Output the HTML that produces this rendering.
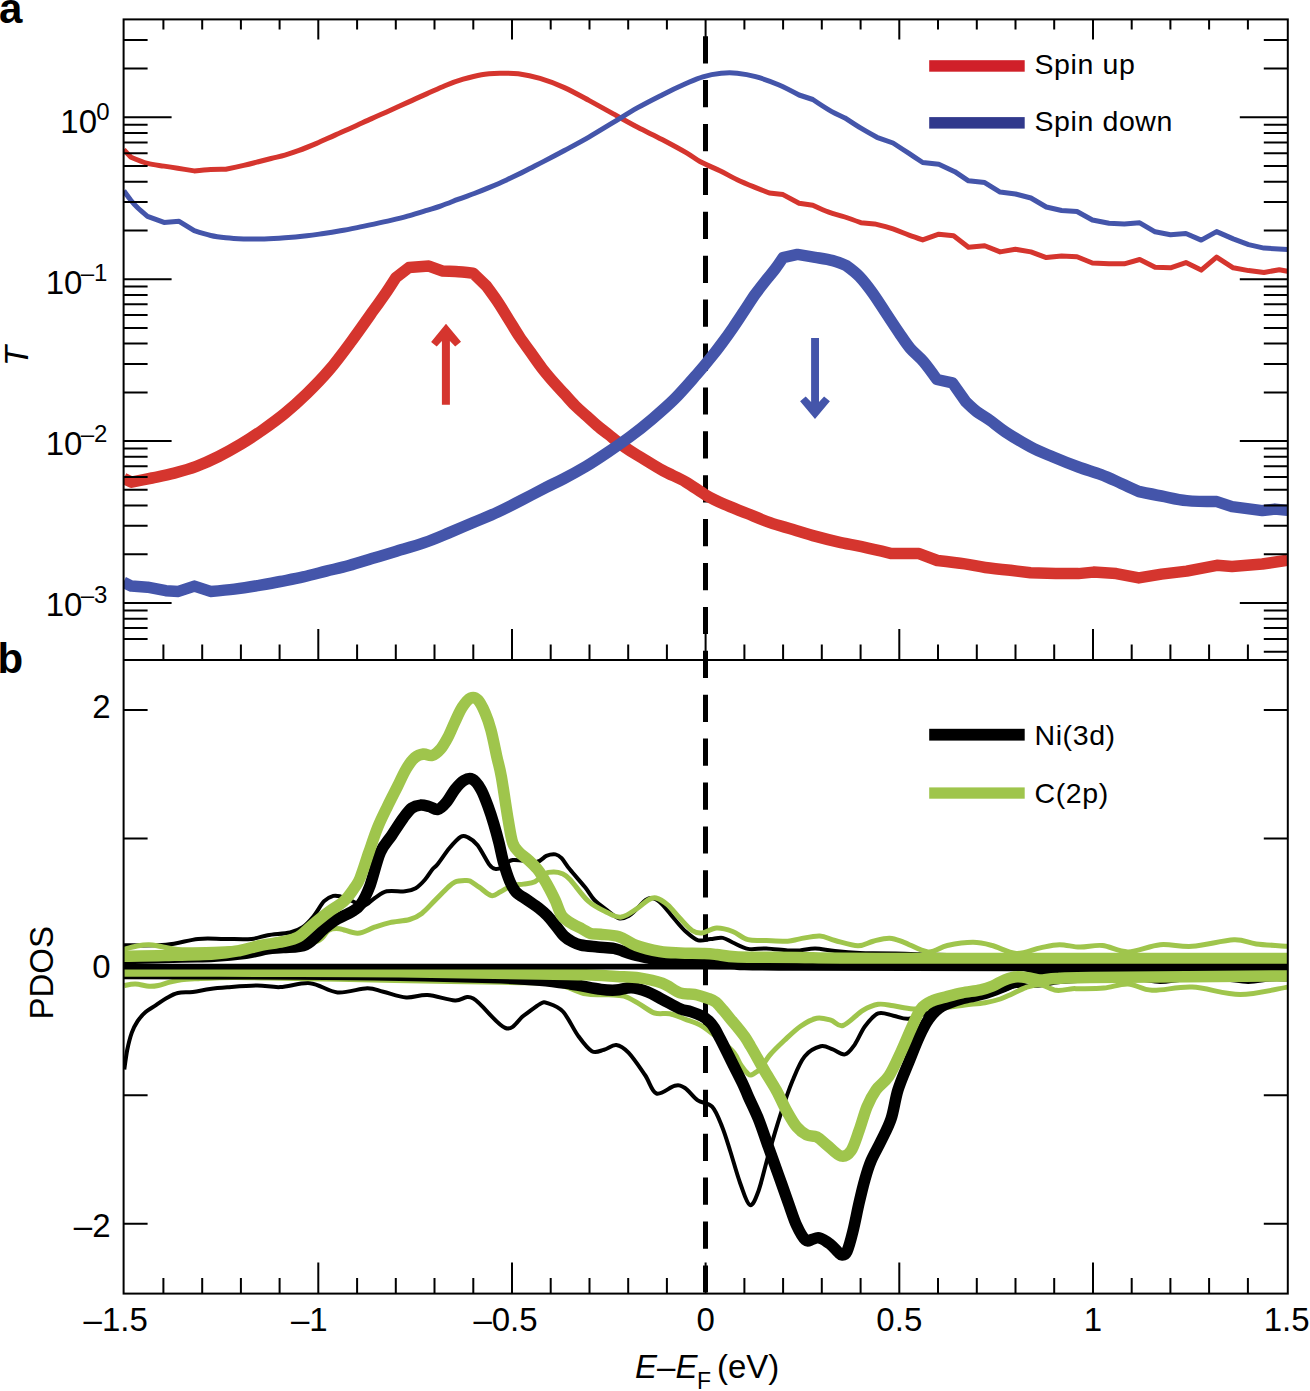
<!DOCTYPE html>
<html><head><meta charset="utf-8"><style>
html,body{margin:0;padding:0;background:#fff;}
body{width:1310px;height:1391px;overflow:hidden;font-family:"Liberation Sans",sans-serif;}
svg{display:block;}
</style></head><body>
<svg width="1310" height="1391" viewBox="0 0 1310 1391">
<rect width="1310" height="1391" fill="#fff"/>
<defs><clipPath id="ca"><rect x="123.6" y="19.4" width="1164.2" height="640.6"/></clipPath>
<clipPath id="cb"><rect x="123.6" y="660.0" width="1164.2" height="633.6"/></clipPath></defs>
<line x1="705.5" y1="36.2" x2="705.5" y2="1293.6" stroke="#000" stroke-width="5" stroke-dasharray="27.2 16.7"/>
<g clip-path="url(#ca)" fill="none" stroke-linejoin="round" stroke-linecap="butt">
<path d="M123.8,149.6 C123.8,149.6 131.0,157.2 131.0,157.2 C131.0,157.2 142.0,161.9 147.5,163.4 C153.0,164.9 159.0,165.3 164.0,166.1 C169.0,166.9 172.7,167.4 177.7,168.2 C182.7,169.0 194.2,170.9 194.2,170.9 C194.2,170.9 205.4,169.8 210.7,169.5 C216.0,169.2 225.8,169.3 225.8,169.3 C225.8,169.3 238.4,166.6 243.7,165.4 C249.0,164.2 252.8,163.2 257.4,162.0 C262.0,160.8 266.5,159.7 271.1,158.5 C275.7,157.3 280.4,156.4 284.9,155.1 C289.4,153.8 293.0,152.6 298.3,150.7 C303.6,148.8 310.5,146.0 316.6,143.4 C322.7,140.8 328.9,137.8 335.0,135.1 C341.1,132.3 347.2,129.7 353.3,126.9 C359.4,124.2 365.5,121.3 371.6,118.6 C377.7,115.8 383.8,113.2 389.9,110.4 C396.0,107.7 402.2,104.8 408.3,102.1 C414.4,99.3 420.5,96.6 426.6,93.9 C432.7,91.2 438.8,88.2 444.9,85.7 C451.0,83.2 457.1,81.0 463.2,79.2 C469.3,77.4 475.4,75.7 481.5,74.7 C487.6,73.7 493.9,73.5 500.0,73.3 C506.1,73.1 511.6,72.9 518.3,73.8 C525.0,74.7 532.3,76.1 540.0,78.4 C547.7,80.7 556.2,83.9 564.4,87.6 C572.5,91.3 580.8,96.0 588.9,100.4 C597.0,104.8 605.2,109.4 613.3,113.9 C621.4,118.4 629.6,123.0 637.7,127.3 C645.8,131.6 654.0,135.2 662.1,139.5 C670.2,143.8 680.3,149.2 686.6,152.9 C692.9,156.6 694.5,158.5 700.0,161.5 C705.5,164.5 713.7,167.8 719.9,170.8 C726.1,173.8 731.6,177.1 737.2,179.7 C742.8,182.3 747.9,184.4 753.3,186.6 C758.6,188.8 769.3,193.0 769.3,193.0 C769.3,193.0 783.0,194.6 783.0,194.6 C783.0,194.6 799.1,203.3 799.1,203.3 C799.1,203.3 812.8,205.3 812.8,205.3 C812.8,205.3 823.4,210.2 828.8,212.2 C834.1,214.1 839.5,215.2 844.9,217.0 C850.2,218.8 860.9,222.7 860.9,222.7 C860.9,222.7 874.6,223.9 874.6,223.9 C874.6,223.9 887.3,227.0 893.0,228.9 C898.7,230.8 904.0,233.3 909.0,235.1 C914.0,236.9 922.7,239.9 922.7,239.9 C922.7,239.9 938.8,234.2 938.8,234.2 C938.8,234.2 953.6,235.8 953.6,235.8 C953.6,235.8 968.5,247.2 968.5,247.2 C968.5,247.2 984.7,245.8 984.7,245.8 C984.7,245.8 1000.1,251.9 1000.1,251.9 C1000.1,251.9 1015.5,249.3 1015.5,249.3 C1015.5,249.3 1030.9,251.9 1030.9,251.9 C1030.9,251.9 1046.3,257.6 1046.3,257.6 C1046.3,257.6 1061.6,256.0 1061.6,256.0 C1061.6,256.0 1077.0,256.7 1077.0,256.7 C1077.0,256.7 1092.4,263.0 1092.4,263.0 C1092.4,263.0 1109.0,263.8 1109.0,263.8 C1109.0,263.8 1124.3,263.8 1124.3,263.8 C1124.3,263.8 1139.7,259.5 1139.7,259.5 C1139.7,259.5 1155.1,267.3 1155.1,267.3 C1155.1,267.3 1170.5,267.8 1170.5,267.8 C1170.5,267.8 1185.9,262.6 1185.9,262.6 C1185.9,262.6 1201.2,270.1 1201.2,270.1 C1201.2,270.1 1216.6,257.1 1216.6,257.1 C1216.6,257.1 1233.2,267.8 1233.2,267.8 C1233.2,267.8 1248.6,270.6 1248.6,270.6 C1248.6,270.6 1264.0,272.5 1264.0,272.5 C1264.0,272.5 1279.3,269.7 1279.3,269.7 C1279.3,269.7 1287.5,271.3 1287.5,271.3" stroke="#d5352e" stroke-width="5"/>
<path d="M123.8,190.8 C123.8,190.8 128.7,197.6 131.0,200.5 C133.3,203.4 135.2,205.4 137.9,208.0 C140.7,210.6 147.5,216.3 147.5,216.3 C147.5,216.3 164.0,222.4 164.0,222.4 C164.0,222.4 179.1,221.3 179.1,221.3 C179.1,221.3 194.2,230.7 194.2,230.7 C194.2,230.7 205.4,234.3 210.7,235.5 C216.0,236.7 220.3,237.2 225.8,237.8 C231.3,238.4 237.3,238.7 243.7,238.9 C250.1,239.1 257.4,239.1 264.3,238.9 C271.2,238.7 277.8,238.3 284.9,237.8 C292.0,237.3 300.4,236.5 306.8,235.8 C313.2,235.1 318.0,234.3 323.6,233.5 C329.2,232.7 334.8,231.8 340.4,230.8 C346.0,229.8 351.6,228.7 357.2,227.6 C362.8,226.5 368.4,225.3 374.0,224.1 C379.6,222.9 385.2,221.7 390.8,220.4 C396.4,219.1 401.9,217.8 407.5,216.2 C413.1,214.6 418.7,212.8 424.3,211.1 C429.9,209.4 435.5,207.8 441.1,205.8 C446.7,203.9 452.4,201.5 457.9,199.4 C463.4,197.3 469.1,195.4 474.2,193.5 C479.3,191.6 482.9,190.2 488.3,187.9 C493.7,185.6 500.5,182.7 506.6,179.9 C512.7,177.1 518.9,174.2 525.0,171.1 C531.1,168.0 536.7,165.0 543.3,161.6 C549.9,158.2 556.8,154.6 564.4,150.5 C572.0,146.4 580.8,141.8 588.9,137.1 C597.0,132.4 605.2,127.3 613.3,122.4 C621.4,117.5 629.6,112.3 637.7,107.7 C645.8,103.1 654.0,99.0 662.1,94.9 C670.2,90.8 679.8,86.3 686.6,83.3 C693.4,80.3 697.1,78.5 702.9,76.8 C708.7,75.1 715.5,73.9 721.2,73.3 C726.9,72.7 731.5,72.7 737.2,73.2 C742.9,73.8 748.7,74.7 755.6,76.6 C762.5,78.5 771.2,81.6 778.5,84.7 C785.8,87.8 799.1,95.0 799.1,95.0 C799.1,95.0 812.8,99.5 812.8,99.5 C812.8,99.5 823.4,106.7 828.8,109.8 C834.1,112.9 844.9,117.9 844.9,117.9 C844.9,117.9 855.6,125.0 860.9,128.2 C866.2,131.4 876.9,137.3 876.9,137.3 C876.9,137.3 893.0,143.0 893.0,143.0 C893.0,143.0 904.0,150.2 909.0,153.4 C914.0,156.7 922.7,162.5 922.7,162.5 C922.7,162.5 938.8,164.3 938.8,164.3 C938.8,164.3 954.8,171.7 954.8,171.7 C954.8,171.7 968.5,180.8 968.5,180.8 C968.5,180.8 984.7,182.6 984.7,182.6 C984.7,182.6 1000.1,192.1 1000.1,192.1 C1000.1,192.1 1015.5,194.0 1015.5,194.0 C1015.5,194.0 1030.9,198.0 1030.9,198.0 C1030.9,198.0 1046.3,207.0 1046.3,207.0 C1046.3,207.0 1061.6,210.5 1061.6,210.5 C1061.6,210.5 1077.0,211.5 1077.0,211.5 C1077.0,211.5 1092.4,220.0 1092.4,220.0 C1092.4,220.0 1109.0,223.3 1109.0,223.3 C1109.0,223.3 1124.3,224.0 1124.3,224.0 C1124.3,224.0 1139.7,222.8 1139.7,222.8 C1139.7,222.8 1155.1,231.8 1155.1,231.8 C1155.1,231.8 1170.5,234.7 1170.5,234.7 C1170.5,234.7 1185.9,233.5 1185.9,233.5 C1185.9,233.5 1201.2,240.1 1201.2,240.1 C1201.2,240.1 1216.6,231.6 1216.6,231.6 C1216.6,231.6 1233.2,238.9 1233.2,238.9 C1233.2,238.9 1248.6,244.6 1248.6,244.6 C1248.6,244.6 1264.0,248.1 1264.0,248.1 C1264.0,248.1 1287.5,249.6 1287.5,249.6" stroke="#4455aa" stroke-width="5"/>
<path d="M123.7,478.3 C123.7,478.3 131.5,482.2 131.5,482.2 C131.5,482.2 145.0,479.5 152.1,478.0 C159.2,476.5 166.9,475.0 174.3,473.1 C181.7,471.2 189.0,469.2 196.4,466.4 C203.8,463.6 211.2,460.2 218.6,456.5 C226.0,452.8 233.3,448.7 240.7,444.3 C248.1,439.9 255.4,435.1 262.8,429.9 C270.2,424.7 277.6,419.4 285.0,413.3 C292.4,407.2 299.7,400.6 307.1,393.4 C314.5,386.2 321.8,378.8 329.2,370.1 C336.6,361.4 344.0,351.3 351.4,341.3 C358.8,331.3 368.0,318.1 373.5,310.3 C379.0,302.6 380.9,300.2 384.6,294.8 C388.3,289.4 395.7,277.8 395.7,277.8 C395.7,277.8 409.0,267.5 409.0,267.5 C409.0,267.5 428.9,266.1 428.9,266.1 C428.9,266.1 442.1,270.9 442.1,270.9 C442.1,270.9 450.2,271.2 455.4,271.6 C460.6,272.0 473.1,273.2 473.1,273.2 C473.1,273.2 486.4,286.0 486.4,286.0 C486.4,286.0 493.8,296.0 497.5,301.5 C501.2,307.0 504.9,313.3 508.6,319.2 C512.3,325.1 515.9,331.4 519.6,336.9 C523.3,342.4 527.0,347.2 530.7,352.4 C534.4,357.6 538.1,363.1 541.8,367.9 C545.5,372.7 549.1,376.9 552.8,381.2 C556.5,385.4 560.2,389.3 563.9,393.4 C567.6,397.4 571.3,401.8 575.0,405.5 C578.7,409.2 582.3,412.2 586.0,415.5 C589.7,418.8 593.4,422.4 597.1,425.5 C600.8,428.6 604.5,431.4 608.2,434.3 C611.9,437.2 615.5,440.4 619.2,443.2 C622.9,446.0 626.6,448.5 630.3,450.9 C634.0,453.3 635.9,454.3 641.4,457.6 C646.9,460.9 656.1,466.8 663.5,470.9 C670.9,474.9 678.6,477.8 685.7,481.9 C692.8,485.9 699.6,491.5 706.0,495.2 C712.4,498.9 717.4,501.2 724.3,504.3 C731.2,507.4 739.6,510.4 747.2,513.5 C754.8,516.6 762.5,520.0 770.1,522.7 C777.7,525.4 785.4,527.2 793.0,529.5 C800.6,531.8 808.3,534.3 815.9,536.4 C823.5,538.5 831.2,540.4 838.8,542.1 C846.4,543.8 852.9,544.8 861.7,546.7 C870.5,548.6 891.5,553.6 891.5,553.6 C891.5,553.6 919.0,553.6 919.0,553.6 C919.0,553.6 937.3,560.5 937.3,560.5 C937.3,560.5 956.8,562.7 964.8,563.9 C972.8,565.1 977.6,566.4 985.2,567.5 C992.8,568.6 1010.4,570.3 1010.4,570.3 C1010.4,570.3 1030.5,572.8 1030.5,572.8 C1030.5,572.8 1055.7,573.4 1055.7,573.4 C1055.7,573.4 1078.4,573.6 1078.4,573.6 C1078.4,573.6 1093.5,572.1 1093.5,572.1 C1093.5,572.1 1116.2,573.6 1116.2,573.6 C1116.2,573.6 1138.8,577.9 1138.8,577.9 C1138.8,577.9 1161.5,574.1 1161.5,574.1 C1161.5,574.1 1186.7,571.1 1186.7,571.1 C1186.7,571.1 1216.9,565.3 1216.9,565.3 C1216.9,565.3 1232.0,566.5 1232.0,566.5 C1232.0,566.5 1262.3,564.0 1262.3,564.0 C1262.3,564.0 1287.5,560.3 1287.5,560.3" stroke="#d5352e" stroke-width="11.5"/>
<path d="M123.4,582.2 C123.4,582.2 131.4,586.1 131.4,586.1 C131.4,586.1 147.5,587.2 147.5,587.2 C147.5,587.2 165.8,590.7 165.8,590.7 C165.8,590.7 178.4,591.4 178.4,591.4 C178.4,591.4 194.4,586.1 194.4,586.1 C194.4,586.1 210.5,591.4 210.5,591.4 C210.5,591.4 226.7,590.1 234.5,589.1 C242.3,588.1 249.8,586.9 257.4,585.6 C265.0,584.3 272.7,583.0 280.3,581.5 C287.9,580.0 295.6,578.6 303.2,576.9 C310.8,575.2 318.5,573.1 326.1,571.2 C333.7,569.3 341.4,567.6 349.0,565.5 C356.6,563.4 364.3,560.9 371.9,558.6 C379.5,556.3 386.1,554.4 394.8,551.8 C403.6,549.1 415.4,545.9 424.4,542.7 C433.4,539.6 440.8,536.3 448.9,532.9 C457.0,529.5 465.2,526.0 473.3,522.5 C481.4,519.0 489.6,515.9 497.7,512.1 C505.8,508.3 514.0,504.1 522.1,499.9 C530.2,495.7 539.6,490.7 546.6,487.1 C553.6,483.6 557.3,482.1 563.9,478.6 C570.5,475.2 578.6,470.8 586.0,466.4 C593.4,462.0 600.8,457.0 608.2,452.0 C615.6,447.0 622.9,442.0 630.3,436.5 C637.7,431.0 645.1,425.1 652.5,418.8 C659.9,412.5 667.2,406.3 674.6,398.9 C682.0,391.5 690.6,381.4 696.7,374.5 C702.8,367.6 706.9,362.6 711.1,357.3 C715.3,352.1 718.4,348.0 722.1,343.0 C725.8,338.0 729.5,332.8 733.2,327.4 C736.9,322.0 740.6,316.3 744.3,310.8 C748.0,305.3 751.6,299.4 755.3,294.2 C759.0,289.0 763.1,284.0 766.4,279.8 C769.7,275.6 772.5,272.5 775.3,268.8 C778.1,265.1 783.0,257.7 783.0,257.7 C783.0,257.7 797.4,254.4 797.4,254.4 C797.4,254.4 809.2,256.3 815.1,257.3 C821.0,258.3 827.6,259.2 832.8,260.6 C838.0,262.0 846.1,265.5 846.1,265.5 C846.1,265.5 855.0,271.9 859.4,276.5 C863.8,281.1 868.3,287.0 872.7,293.1 C877.1,299.2 881.6,306.5 886.0,313.1 C890.4,319.8 895.2,327.1 899.2,333.0 C903.2,338.9 906.2,343.7 910.3,348.5 C914.4,353.3 919.2,356.6 923.6,361.8 C928.0,367.0 936.9,379.5 936.9,379.5 C936.9,379.5 952.4,382.8 952.4,382.8 C952.4,382.8 965.7,401.6 965.7,401.6 C965.7,401.6 972.7,408.5 976.7,411.6 C980.8,414.7 985.2,417.0 990.0,420.4 C994.8,423.8 998.5,427.4 1005.3,431.8 C1012.0,436.2 1022.5,442.7 1030.5,446.9 C1038.5,451.1 1045.2,453.6 1053.2,457.0 C1061.2,460.4 1070.4,464.1 1078.4,467.0 C1086.4,469.9 1094.0,471.9 1101.1,474.6 C1108.2,477.3 1114.9,480.6 1121.2,483.4 C1127.5,486.2 1138.8,491.5 1138.8,491.5 C1138.8,491.5 1153.5,494.5 1161.5,496.0 C1169.5,497.5 1177.5,499.7 1186.7,500.6 C1195.9,501.5 1216.9,501.6 1216.9,501.6 C1216.9,501.6 1232.0,506.6 1232.0,506.6 C1232.0,506.6 1262.3,510.6 1262.3,510.6 C1262.3,510.6 1274.9,509.1 1274.9,509.1 C1274.9,509.1 1287.5,510.4 1287.5,510.4" stroke="#4455aa" stroke-width="11.5"/>
</g>
<polygon fill="#d5352e" points="446,323.8 461,341.7 455.2,346.6 449.9,340.9 449.9,404.7 441.9,404.7 441.9,340.9 436.7,346.6 431.1,342"/>
<polygon fill="#4455aa" points="815,419.1 829.9,401.2 824.1,396.5 819,401.9 819,338.1 811.1,338.1 811.1,401.9 805.7,396.5 800.1,401.2"/>
<g clip-path="url(#cb)" fill="none" stroke-linejoin="round" stroke-linecap="butt">
<path d="M123.6,945.3 C130.7,945.2 153.6,945.9 166.0,944.8 C178.4,943.7 188.3,939.9 198.1,938.9 C207.9,937.9 215.9,938.9 224.8,938.9 C233.7,938.9 244.4,939.5 251.5,938.9 C258.6,938.3 261.2,936.3 267.6,935.2 C274.0,934.1 284.1,933.8 290.0,932.5 C295.9,931.2 298.8,929.9 302.7,927.2 C306.6,924.5 309.8,920.8 313.4,916.5 C317.0,912.2 320.8,904.6 324.1,901.2 C327.4,897.8 330.5,896.7 333.3,895.9 C336.1,895.1 337.8,895.8 340.9,896.6 C344.0,897.5 348.2,899.5 352.0,901.0 C355.8,902.5 360.1,906.3 363.8,905.8 C367.6,905.3 370.7,900.6 374.5,898.2 C378.3,895.8 381.6,892.4 386.7,891.3 C391.8,890.1 400.2,891.8 405.0,891.3 C409.8,890.8 412.4,890.1 415.7,888.2 C419.0,886.3 422.1,883.0 424.9,879.8 C427.7,876.6 430.4,871.8 432.5,869.2 C434.6,866.6 435.0,867.5 437.8,864.0 C440.6,860.5 445.5,852.8 449.3,848.2 C453.1,843.7 457.7,838.5 460.8,836.7 C463.9,834.9 465.2,836.0 468.0,837.4 C470.8,838.8 474.1,840.7 477.6,845.2 C481.1,849.7 486.2,860.3 489.1,864.3 C492.0,868.2 493.0,868.4 495.2,868.9 C497.4,869.4 499.2,868.8 502.1,867.3 C505.0,865.8 507.0,861.0 512.7,860.1 C518.4,859.2 530.8,862.7 536.4,862.0 C542.0,861.3 543.1,857.2 546.3,855.9 C549.5,854.6 553.0,854.0 555.5,854.4 C558.0,854.8 559.2,855.7 561.6,858.2 C564.0,860.7 566.0,864.7 570.0,869.6 C574.0,874.5 581.2,882.5 585.3,887.6 C589.4,892.7 590.8,896.3 594.4,900.0 C598.0,903.7 602.5,906.8 606.6,909.8 C610.7,912.8 615.2,917.3 618.9,918.3 C622.6,919.3 625.4,917.7 628.6,915.9 C631.9,914.1 635.5,909.9 638.4,907.3 C641.2,904.6 643.3,901.5 645.7,900.0 C648.1,898.5 650.4,897.7 653.0,898.3 C655.6,898.9 658.1,900.4 661.6,903.7 C665.1,907.0 669.7,913.6 673.8,918.3 C677.9,923.0 681.9,928.1 686.0,931.8 C690.1,935.5 694.1,939.1 698.2,940.3 C702.3,941.5 706.4,939.5 710.5,939.1 C714.6,938.7 719.0,937.3 722.7,937.9 C726.4,938.5 728.5,940.7 732.7,942.5 C736.9,944.3 742.4,947.9 748.0,948.9 C753.6,949.9 759.7,948.2 766.3,948.5 C772.9,948.8 782.1,950.1 787.7,950.4 C793.3,950.7 795.3,950.7 799.9,950.4 C804.5,950.1 809.4,948.4 815.2,948.5 C821.1,948.6 827.5,950.4 835.0,951.1 C842.5,951.9 849.8,952.6 860.0,953.0 C870.2,953.4 872.7,953.0 896.0,953.5 C919.3,954.0 934.8,955.2 1000.0,956.0 C1065.2,956.8 1239.6,957.7 1287.5,958.0" stroke="#000" stroke-width="4"/>
<path d="M124.3,1069.5 C124.8,1066.2 126.0,1056.1 127.2,1050.0 C128.5,1043.9 130.1,1037.5 131.8,1032.7 C133.5,1027.9 135.3,1024.7 137.6,1021.2 C139.9,1017.8 142.5,1014.7 145.6,1012.0 C148.7,1009.3 152.6,1007.4 156.0,1005.1 C159.4,1002.8 162.7,1000.2 166.3,998.2 C169.9,996.2 173.4,994.0 177.8,993.0 C182.2,992.0 187.4,992.6 192.8,991.9 C198.2,991.2 204.2,989.8 210.0,989.0 C215.8,988.2 219.4,987.9 227.3,987.3 C235.2,986.7 248.6,985.5 257.4,985.5 C266.2,985.5 271.5,987.5 280.3,987.1 C289.1,986.7 300.6,982.3 310.1,983.2 C319.6,984.1 328.0,991.6 337.5,992.4 C347.0,993.2 359.7,988.3 367.3,988.2 C374.9,988.1 376.8,990.2 383.3,991.7 C389.8,993.2 398.8,996.9 406.2,997.4 C413.6,997.9 419.4,994.5 427.5,995.0 C435.6,995.5 447.4,999.9 455.0,1000.5 C462.6,1001.1 464.9,994.0 473.3,998.6 C481.7,1003.2 497.0,1025.2 505.4,1028.0 C513.8,1030.8 517.9,1019.6 523.7,1015.6 C529.5,1011.6 536.0,1006.0 540.0,1003.9 C544.0,1001.8 543.8,1001.8 547.6,1003.1 C551.4,1004.4 557.8,1006.0 562.9,1011.5 C568.0,1017.0 573.4,1029.3 578.2,1035.9 C583.0,1042.5 587.6,1048.9 591.9,1051.2 C596.2,1053.5 600.0,1050.7 604.1,1049.7 C608.2,1048.7 612.2,1044.5 616.3,1045.0 C620.4,1045.5 623.7,1047.7 628.5,1052.7 C633.3,1057.7 640.3,1068.2 645.0,1075.0 C649.7,1081.8 651.5,1091.7 656.5,1093.5 C661.5,1095.3 670.0,1086.6 674.8,1085.7 C679.5,1084.8 681.2,1085.6 685.0,1088.0 C688.8,1090.4 693.3,1097.2 697.8,1100.3 C702.3,1103.4 708.0,1102.3 712.1,1106.7 C716.2,1111.1 719.1,1119.4 722.1,1126.8 C725.1,1134.2 727.2,1141.6 730.2,1151.0 C733.2,1160.4 736.9,1174.2 740.2,1183.2 C743.5,1192.2 746.8,1203.7 749.8,1205.0 C752.8,1206.3 755.3,1199.5 758.4,1191.2 C761.5,1182.9 764.7,1167.8 768.4,1155.0 C772.1,1142.2 776.5,1127.1 780.5,1114.7 C784.5,1102.3 788.6,1090.2 792.6,1080.5 C796.6,1070.8 799.9,1062.1 804.6,1056.4 C809.3,1050.7 816.0,1047.5 820.7,1046.3 C825.4,1045.1 828.8,1048.1 832.8,1049.4 C836.8,1050.8 841.2,1055.2 844.9,1054.4 C848.6,1053.6 851.5,1049.0 854.9,1044.3 C858.2,1039.6 861.1,1031.4 865.0,1026.2 C868.9,1021.1 873.5,1015.1 878.2,1013.4 C882.9,1011.6 888.3,1014.8 893.4,1015.7 C898.5,1016.6 902.6,1019.4 908.7,1018.8 C914.8,1018.2 923.1,1014.5 930.0,1012.0 C936.9,1009.5 942.5,1006.5 950.0,1004.0 C957.5,1001.5 966.7,999.2 975.0,997.0 C983.3,994.8 993.1,992.8 1000.0,991.0 C1006.9,989.2 1009.6,986.9 1016.3,986.0 C1023.0,985.1 1032.7,986.2 1040.0,985.5 C1047.3,984.8 1050.0,982.9 1060.0,982.0 C1070.0,981.1 1087.5,980.5 1100.0,980.0 C1112.5,979.5 1125.0,978.7 1135.0,979.0 C1145.0,979.3 1151.7,981.9 1160.0,982.0 C1168.3,982.1 1175.0,980.0 1185.0,979.5 C1195.0,979.0 1209.5,978.6 1220.0,979.0 C1230.5,979.4 1239.7,981.9 1248.0,982.0 C1256.3,982.1 1263.4,979.9 1270.0,979.5 C1276.6,979.1 1284.6,979.5 1287.5,979.5" stroke="#000" stroke-width="4"/>
<path d="M123.6,949.5 C125.8,948.9 132.8,946.8 137.0,946.0 C141.2,945.2 145.0,944.6 149.0,944.7 C153.0,944.8 156.2,945.7 161.0,946.5 C165.8,947.3 169.2,949.0 178.0,949.5 C186.8,950.0 200.3,949.6 214.0,949.2 C227.7,948.8 247.3,947.9 260.0,947.0 C272.7,946.1 280.3,945.0 290.0,944.0 C299.7,943.0 311.6,943.2 318.0,940.9 C324.4,938.6 325.1,932.2 328.7,930.2 C332.3,928.2 334.6,928.2 339.4,928.7 C344.2,929.2 351.8,933.5 357.7,933.3 C363.6,933.0 369.1,929.0 374.5,927.2 C379.9,925.4 383.9,923.9 389.8,922.6 C395.7,921.3 404.3,921.0 409.6,919.5 C414.9,918.0 417.5,916.7 421.8,913.4 C426.1,910.1 431.3,904.0 435.6,899.7 C439.9,895.4 444.6,890.5 447.8,887.5 C451.0,884.5 452.2,883.2 455.0,882.0 C457.8,880.8 462.3,880.6 464.8,880.5 C467.3,880.4 467.6,880.0 470.0,881.1 C472.4,882.2 475.6,884.8 479.2,887.2 C482.8,889.6 487.8,894.8 491.4,895.6 C494.9,896.4 497.1,893.5 500.5,891.8 C503.9,890.1 508.2,886.9 512.0,885.6 C515.8,884.3 519.6,884.7 523.4,884.1 C527.2,883.5 531.3,883.6 534.9,881.8 C538.5,880.0 541.6,875.0 544.8,873.4 C548.0,871.8 551.2,871.9 554.0,871.9 C556.8,871.9 558.9,872.1 561.6,873.4 C564.3,874.7 565.5,874.9 570.0,879.5 C574.5,884.1 582.2,895.8 588.3,901.2 C594.4,906.7 601.1,909.6 606.6,912.2 C612.1,914.9 616.2,917.7 621.3,917.1 C626.4,916.5 632.7,911.4 637.2,908.5 C641.7,905.6 645.1,901.8 648.2,900.0 C651.3,898.2 652.8,897.2 656.0,898.0 C659.2,898.8 663.7,901.5 667.7,904.9 C671.7,908.3 675.8,914.0 679.9,918.3 C684.0,922.6 688.4,928.0 692.1,930.5 C695.8,933.0 697.8,933.4 701.9,933.0 C706.0,932.6 711.5,928.4 716.6,928.1 C721.7,927.9 727.5,929.6 732.7,931.5 C737.9,933.4 742.4,938.2 748.0,939.7 C753.6,941.2 759.7,940.2 766.3,940.5 C772.9,940.8 782.1,941.5 787.7,941.2 C793.3,940.9 794.5,939.8 799.9,938.9 C805.2,938.0 813.9,935.6 819.8,935.9 C825.6,936.2 828.6,938.9 835.0,940.5 C841.4,942.1 851.5,945.7 857.9,945.8 C864.3,945.9 867.9,942.5 873.2,941.2 C878.5,939.9 884.5,938.0 889.6,938.2 C894.7,938.4 897.6,940.0 904.0,942.3 C910.4,944.6 920.9,951.4 928.1,951.9 C935.3,952.4 939.8,947.1 947.3,945.5 C954.8,943.9 965.5,942.3 973.0,942.3 C980.5,942.3 985.0,943.6 992.2,945.5 C999.4,947.4 1008.3,953.1 1016.3,953.5 C1024.3,953.9 1033.1,949.4 1040.3,947.9 C1047.5,946.4 1052.9,944.8 1059.5,944.7 C1066.1,944.6 1072.8,947.0 1080.0,947.1 C1087.2,947.2 1094.4,944.7 1102.4,945.5 C1110.4,946.3 1118.5,952.0 1128.1,951.9 C1137.7,951.8 1149.5,945.6 1160.2,944.7 C1170.9,943.8 1179.9,947.1 1192.2,946.3 C1204.5,945.5 1223.2,940.2 1233.9,939.8 C1244.6,939.4 1247.4,942.8 1256.3,943.9 C1265.2,945.0 1282.3,945.9 1287.5,946.3" stroke="#9fc54c" stroke-width="5"/>
<path d="M124.3,985.5 C126.1,985.2 131.2,983.9 135.3,984.0 C139.4,984.1 145.3,986.0 149.1,986.3 C152.9,986.5 154.9,986.2 158.3,985.5 C161.8,984.8 166.0,983.1 169.8,982.1 C173.6,981.1 176.5,980.4 181.3,979.8 C186.1,979.2 189.9,979.1 198.5,978.7 C207.1,978.3 221.4,977.6 233.0,977.5 C244.6,977.4 248.5,977.8 268.0,978.1 C287.5,978.4 319.7,978.9 350.0,979.5 C380.3,980.1 423.3,981.0 450.0,981.5 C476.7,982.0 492.4,982.1 510.0,982.5 C527.5,982.9 542.7,982.1 555.3,984.0 C567.9,985.9 576.9,992.1 585.8,993.9 C594.7,995.7 602.3,994.3 608.7,994.7 C615.1,995.1 618.9,994.7 624.0,996.2 C629.1,997.7 634.1,1001.1 639.2,1003.9 C644.3,1006.7 649.4,1011.4 654.5,1013.0 C659.6,1014.6 664.7,1012.8 669.8,1013.8 C674.9,1014.8 679.7,1017.1 685.0,1019.1 C690.3,1021.1 695.8,1022.4 701.6,1025.9 C707.5,1029.4 714.7,1035.6 720.1,1040.0 C725.5,1044.4 730.4,1048.2 733.9,1052.5 C737.4,1056.8 738.7,1061.9 741.1,1065.5 C743.5,1069.1 746.5,1072.5 748.3,1074.1 C750.1,1075.6 750.6,1075.1 751.9,1074.8 C753.2,1074.5 754.9,1073.0 756.2,1072.0 C757.6,1071.0 757.6,1072.0 760.0,1069.1 C762.4,1066.2 766.3,1059.2 770.4,1054.4 C774.5,1049.6 779.5,1045.0 784.5,1040.3 C789.5,1035.6 795.2,1029.9 800.6,1026.2 C806.0,1022.5 811.7,1019.2 816.7,1018.2 C821.7,1017.2 826.4,1019.0 830.8,1020.2 C835.2,1021.4 837.6,1027.1 843.0,1025.5 C848.4,1023.9 857.0,1013.9 862.9,1010.4 C868.8,1006.9 873.1,1005.1 878.2,1004.3 C883.3,1003.5 887.5,1005.0 893.4,1005.8 C899.2,1006.6 905.5,1008.5 913.3,1008.9 C921.1,1009.3 931.4,1008.6 940.0,1008.0 C948.6,1007.4 957.5,1005.9 965.0,1005.0 C972.5,1004.1 979.1,1003.7 985.0,1002.7 C990.9,1001.7 995.8,1000.5 1000.3,999.0 C1004.8,997.5 1007.7,995.9 1012.0,994.0 C1016.3,992.1 1021.3,989.0 1026.0,987.5 C1030.7,986.0 1035.2,984.2 1040.3,984.7 C1045.3,985.2 1050.9,989.6 1056.3,990.3 C1061.7,991.0 1068.5,989.0 1072.4,988.7 C1076.4,988.4 1074.7,988.8 1080.0,988.7 C1085.3,988.6 1096.0,988.8 1104.0,988.0 C1112.0,987.2 1120.1,983.6 1128.1,984.0 C1136.1,984.4 1141.4,989.8 1152.1,990.3 C1162.8,990.8 1177.5,986.4 1192.2,987.1 C1206.9,987.8 1224.4,994.4 1240.3,994.4 C1256.2,994.4 1279.6,988.3 1287.5,987.1" stroke="#9fc54c" stroke-width="5"/>
<path d="M123.6,958.5 C133.3,958.2 166.9,957.4 182.0,957.0 C197.1,956.6 203.3,956.9 214.0,956.3 C224.7,955.7 237.0,954.5 246.0,953.3 C255.0,952.0 261.8,949.8 268.0,948.8 C274.2,947.8 276.7,948.2 283.0,947.5 C289.3,946.8 298.9,947.8 305.8,944.7 C312.7,941.6 319.0,932.9 324.1,928.7 C329.2,924.5 331.7,922.3 336.3,919.5 C340.9,916.7 347.5,914.4 351.6,911.9 C355.7,909.4 357.8,908.6 360.8,904.3 C363.9,900.0 366.6,894.6 369.9,886.0 C373.1,877.4 376.6,861.0 380.3,852.5 C384.0,844.0 388.0,841.0 391.8,835.3 C395.6,829.5 400.0,822.5 403.3,818.0 C406.6,813.5 409.0,810.1 411.9,808.0 C414.8,805.9 417.6,805.4 420.5,805.1 C423.4,804.9 426.2,805.8 429.1,806.5 C432.0,807.2 434.9,810.1 437.8,809.4 C440.7,808.7 443.5,805.6 446.4,802.2 C449.3,798.9 452.1,792.9 455.0,789.3 C457.9,785.7 460.8,782.3 463.7,780.6 C466.6,778.9 469.4,777.8 472.3,779.2 C475.2,780.7 478.3,784.8 480.9,789.3 C483.5,793.8 486.0,800.8 488.1,806.5 C490.2,812.2 492.0,817.7 493.8,823.8 C495.6,829.9 497.4,836.4 499.0,842.9 C500.6,849.4 501.8,856.3 503.6,862.7 C505.4,869.1 507.7,876.2 509.7,881.1 C511.7,886.0 512.9,888.6 515.8,891.8 C518.7,894.9 523.5,897.3 527.3,900.0 C531.1,902.7 535.4,905.4 538.7,908.0 C542.0,910.6 544.3,912.5 547.2,915.5 C550.1,918.5 553.2,922.6 556.0,926.0 C558.8,929.4 561.3,933.4 564.0,936.0 C566.7,938.6 569.2,940.0 572.0,941.5 C574.8,943.0 576.5,944.1 580.8,945.0 C585.0,945.9 591.9,946.4 597.5,947.0 C603.1,947.6 608.7,947.3 614.3,948.5 C619.9,949.7 625.5,952.4 631.1,954.0 C636.7,955.6 643.1,956.9 647.9,958.0 C652.7,959.1 654.6,959.7 660.0,960.5 C665.4,961.3 668.3,962.3 680.0,962.8 C691.7,963.3 710.0,963.1 730.0,963.5 C750.0,963.9 707.1,964.6 800.0,965.0 C892.9,965.4 1206.2,965.8 1287.5,966.0" stroke="#000" stroke-width="11.5"/>
<path d="M123.6,973.5 C153.0,973.6 253.9,973.7 300.0,974.0 C346.1,974.3 368.1,974.7 400.0,975.3 C431.9,975.9 468.3,976.7 491.6,977.5 C514.9,978.3 526.9,979.1 540.0,980.2 C553.1,981.3 560.3,982.5 570.5,984.0 C580.7,985.5 593.4,988.4 601.0,989.4 C608.6,990.4 611.2,990.4 616.3,990.1 C621.4,989.8 626.5,987.5 631.6,987.8 C636.7,988.0 641.8,989.7 646.9,991.6 C652.0,993.5 656.6,996.4 662.1,999.3 C667.6,1002.1 675.2,1006.7 680.0,1008.7 C684.8,1010.8 687.2,1010.4 690.8,1011.6 C694.4,1012.8 698.6,1014.4 701.6,1015.9 C704.6,1017.4 706.6,1018.9 708.8,1020.9 C710.9,1022.9 712.6,1025.1 714.5,1028.1 C716.4,1031.1 717.4,1033.3 720.3,1038.9 C723.2,1044.5 728.0,1054.2 731.8,1061.9 C735.6,1069.6 740.5,1079.1 743.3,1084.9 C746.0,1090.7 745.8,1090.9 748.3,1096.6 C750.8,1102.2 755.0,1110.4 758.4,1118.8 C761.8,1127.2 765.0,1137.5 768.4,1146.9 C771.8,1156.3 775.1,1165.7 778.5,1175.1 C781.9,1184.5 785.5,1194.9 788.5,1203.3 C791.5,1211.7 793.8,1219.3 796.6,1225.4 C799.4,1231.5 802.9,1237.7 805.5,1240.0 C808.1,1242.3 809.7,1239.9 812.0,1239.5 C814.3,1239.1 816.2,1237.0 819.2,1237.8 C822.2,1238.5 826.9,1241.6 830.0,1244.0 C833.1,1246.4 836.0,1250.2 838.0,1252.0 C840.0,1253.8 840.5,1255.1 842.0,1255.0 C843.5,1254.9 845.1,1255.5 846.9,1251.6 C848.7,1247.7 850.9,1239.5 852.9,1231.4 C854.9,1223.4 857.0,1212.0 859.0,1203.3 C861.0,1194.6 863.0,1186.1 865.0,1179.1 C867.0,1172.0 868.3,1167.4 871.0,1161.0 C873.7,1154.6 877.8,1147.9 881.1,1140.9 C884.5,1133.9 888.3,1127.3 891.1,1118.8 C893.9,1110.3 895.1,1099.2 898.0,1089.8 C900.9,1080.4 905.1,1071.2 908.7,1062.3 C912.3,1053.4 916.1,1043.4 919.4,1036.3 C922.7,1029.2 925.2,1024.2 928.5,1019.5 C931.8,1014.8 934.9,1011.1 939.2,1008.0 C943.5,1004.9 949.4,1002.8 954.5,1001.0 C959.6,999.2 964.7,998.2 969.8,997.0 C974.9,995.8 979.9,995.0 985.0,993.5 C990.1,992.0 995.2,990.0 1000.3,988.0 C1005.4,986.0 1010.5,983.5 1015.6,981.5 C1020.7,979.5 1025.1,977.2 1030.8,976.0 C1036.5,974.8 1040.1,974.9 1050.0,974.5 C1059.9,974.1 1050.4,973.8 1090.0,973.5 C1129.6,973.2 1254.6,972.7 1287.5,972.5" stroke="#000" stroke-width="11.5"/>
<path d="M123.6,956.2 C130.5,956.1 149.9,955.9 165.0,955.5 C180.1,955.1 201.5,954.7 214.0,953.9 C226.5,953.1 232.3,951.9 240.0,950.5 C247.7,949.1 252.8,947.0 260.0,945.5 C267.2,944.0 276.6,943.1 283.0,941.7 C289.4,940.3 293.1,940.0 298.2,937.1 C303.3,934.2 308.3,928.3 313.4,924.1 C318.5,919.9 323.6,915.7 328.7,911.9 C333.8,908.1 339.7,905.3 344.0,901.2 C348.3,897.1 352.0,891.4 354.7,887.5 C357.4,883.6 357.8,883.8 360.1,878.0 C362.5,872.2 365.9,860.8 368.8,852.5 C371.7,844.2 374.3,835.8 377.4,828.1 C380.5,820.4 384.0,813.5 387.4,806.5 C390.8,799.5 394.4,792.6 397.5,786.4 C400.6,780.2 403.2,773.9 406.1,769.1 C409.0,764.3 411.9,760.1 414.8,757.6 C417.7,755.1 420.5,754.4 423.4,754.0 C426.3,753.6 429.1,756.3 432.0,755.5 C434.9,754.7 438.0,752.0 440.6,749.0 C443.2,746.0 445.4,742.0 447.8,737.5 C450.2,733.0 452.6,726.7 455.0,721.7 C457.4,716.7 459.6,711.2 462.2,707.3 C464.8,703.3 468.2,699.2 470.8,698.0 C473.4,696.8 475.6,697.6 478.0,700.1 C480.4,702.6 483.0,708.1 485.2,713.1 C487.4,718.1 489.1,723.1 491.0,730.3 C492.9,737.5 495.0,748.4 496.7,756.2 C498.4,764.0 499.5,766.4 501.4,777.0 C503.3,787.6 506.3,809.0 508.2,820.0 C510.1,831.0 510.9,837.5 512.7,842.9 C514.5,848.2 516.4,849.3 518.9,852.1 C521.4,854.9 525.0,856.9 528.0,859.7 C531.0,862.5 534.7,865.9 537.2,868.9 C539.8,871.9 541.3,874.7 543.3,878.0 C545.3,881.3 547.4,884.9 549.4,888.7 C551.4,892.5 553.5,896.5 555.5,900.9 C557.5,905.3 559.2,911.8 561.6,915.4 C564.0,919.0 566.6,920.2 570.0,922.5 C573.4,924.8 578.8,927.2 582.2,929.0 C585.6,930.8 587.5,932.6 590.5,933.5 C593.5,934.4 595.8,933.8 600.5,934.3 C605.2,934.8 613.0,934.8 619.0,936.7 C625.0,938.6 629.5,943.0 636.3,945.5 C643.1,948.0 652.7,950.2 660.0,951.5 C667.3,952.8 672.6,952.7 680.0,953.0 C687.4,953.3 698.2,953.2 704.3,953.5 C710.4,953.8 711.0,953.9 716.6,954.5 C722.2,955.1 724.6,956.5 738.0,957.0 C751.4,957.5 771.6,957.2 796.9,957.5 C822.2,957.8 808.2,958.3 890.0,958.5 C971.8,958.7 1221.2,958.5 1287.5,958.5" stroke="#9fc54c" stroke-width="11.5"/>
<path d="M123.6,971.0 C153.0,971.0 253.9,971.1 300.0,971.2 C346.1,971.3 360.0,971.3 400.0,971.8 C440.0,972.3 509.0,973.6 540.0,974.1 C571.0,974.6 573.1,974.4 585.8,974.8 C598.5,975.2 607.4,975.9 616.3,976.4 C625.2,976.9 631.6,976.8 639.2,977.9 C646.8,979.0 655.3,980.7 662.1,983.2 C668.9,985.7 674.6,991.0 680.0,992.9 C685.4,994.8 689.6,993.3 694.4,994.3 C699.2,995.2 705.2,997.3 708.8,998.6 C712.4,999.9 713.6,1000.3 716.0,1002.2 C718.4,1004.1 720.7,1007.3 723.1,1010.1 C725.5,1012.9 727.9,1015.9 730.3,1018.8 C732.7,1021.7 735.1,1024.4 737.5,1027.4 C739.9,1030.4 742.5,1033.6 744.7,1036.7 C746.9,1039.8 748.7,1043.1 750.5,1046.1 C752.3,1049.1 753.2,1050.6 755.5,1054.7 C757.8,1058.8 760.9,1064.5 764.4,1070.5 C767.9,1076.5 772.8,1083.9 776.5,1090.6 C780.2,1097.3 783.1,1104.7 786.5,1110.7 C789.9,1116.7 793.2,1122.8 796.6,1126.8 C800.0,1130.8 803.2,1133.2 806.6,1134.9 C810.0,1136.6 813.3,1135.2 816.7,1136.9 C820.1,1138.6 822.8,1141.7 826.8,1144.9 C830.8,1148.1 836.8,1155.0 840.8,1156.0 C844.8,1157.0 847.9,1155.2 850.9,1151.0 C853.9,1146.8 856.3,1138.2 859.0,1130.8 C861.7,1123.4 864.2,1113.5 867.0,1106.7 C869.8,1099.9 872.4,1095.1 876.0,1090.0 C879.6,1084.9 884.7,1082.4 888.9,1076.0 C893.1,1069.6 897.3,1059.7 901.1,1051.6 C904.9,1043.5 908.5,1034.3 911.8,1027.2 C915.1,1020.1 917.6,1013.2 920.9,1008.9 C924.2,1004.6 927.3,1003.2 931.6,1001.2 C935.9,999.2 941.8,998.0 946.9,996.6 C952.0,995.2 956.5,993.9 962.1,992.8 C967.7,991.7 975.4,990.9 980.5,989.8 C985.6,988.7 988.6,987.7 992.7,986.0 C996.8,984.3 1000.8,981.3 1004.9,979.8 C1009.0,978.3 1012.8,977.0 1017.1,976.8 C1021.4,976.5 1027.0,977.8 1030.8,978.3 C1034.6,978.8 1035.8,980.0 1040.0,980.0 C1044.2,980.0 1048.0,978.9 1056.3,978.5 C1064.6,978.1 1051.5,977.9 1090.0,977.5 C1128.5,977.1 1254.6,976.2 1287.5,976.0" stroke="#9fc54c" stroke-width="11.5"/>
<line x1="123.6" y1="966.6" x2="1287.8" y2="966.6" stroke="#000" stroke-width="5.6"/>
</g>
<rect x="123.6" y="19.4" width="1164.2" height="1274.2" fill="none" stroke="#000" stroke-width="2.0"/>
<line x1="123.6" y1="660.0" x2="1287.8" y2="660.0" stroke="#000" stroke-width="2.0"/>
<path d="M163.4,19.4v10.0 M163.4,660.0v-15.5 M163.4,1293.6v-15.5 M202.2,19.4v10.0 M202.2,660.0v-15.5 M202.2,1293.6v-15.5 M240.9,19.4v10.0 M240.9,660.0v-15.5 M240.9,1293.6v-15.5 M279.6,19.4v10.0 M279.6,660.0v-15.5 M279.6,1293.6v-15.5 M318.3,19.4v20.0 M318.3,660.0v-31.0 M318.3,1293.6v-31.0 M357.1,19.4v10.0 M357.1,660.0v-15.5 M357.1,1293.6v-15.5 M395.8,19.4v10.0 M395.8,660.0v-15.5 M395.8,1293.6v-15.5 M434.5,19.4v10.0 M434.5,660.0v-15.5 M434.5,1293.6v-15.5 M473.3,19.4v10.0 M473.3,660.0v-15.5 M473.3,1293.6v-15.5 M512.0,19.4v20.0 M512.0,660.0v-31.0 M512.0,1293.6v-31.0 M550.7,19.4v10.0 M550.7,660.0v-15.5 M550.7,1293.6v-15.5 M589.5,19.4v10.0 M589.5,660.0v-15.5 M589.5,1293.6v-15.5 M628.2,19.4v10.0 M628.2,660.0v-15.5 M628.2,1293.6v-15.5 M666.9,19.4v10.0 M666.9,660.0v-15.5 M666.9,1293.6v-15.5 M705.6,19.4v20.0 M705.6,660.0v-31.0 M705.6,1293.6v-31.0 M744.4,19.4v10.0 M744.4,660.0v-15.5 M744.4,1293.6v-15.5 M783.1,19.4v10.0 M783.1,660.0v-15.5 M783.1,1293.6v-15.5 M821.8,19.4v10.0 M821.8,660.0v-15.5 M821.8,1293.6v-15.5 M860.6,19.4v10.0 M860.6,660.0v-15.5 M860.6,1293.6v-15.5 M899.3,19.4v20.0 M899.3,660.0v-31.0 M899.3,1293.6v-31.0 M938.0,19.4v10.0 M938.0,660.0v-15.5 M938.0,1293.6v-15.5 M976.8,19.4v10.0 M976.8,660.0v-15.5 M976.8,1293.6v-15.5 M1015.5,19.4v10.0 M1015.5,660.0v-15.5 M1015.5,1293.6v-15.5 M1054.2,19.4v10.0 M1054.2,660.0v-15.5 M1054.2,1293.6v-15.5 M1093.0,19.4v20.0 M1093.0,660.0v-31.0 M1093.0,1293.6v-31.0 M1131.7,19.4v10.0 M1131.7,660.0v-15.5 M1131.7,1293.6v-15.5 M1170.4,19.4v10.0 M1170.4,660.0v-15.5 M1170.4,1293.6v-15.5 M1209.1,19.4v10.0 M1209.1,660.0v-15.5 M1209.1,1293.6v-15.5 M1247.9,19.4v10.0 M1247.9,660.0v-15.5 M1247.9,1293.6v-15.5 M1287.8,651.7h-24.0 M123.6,638.9h24.0 M1287.8,638.9h-24.0 M123.6,628.1h24.0 M1287.8,628.1h-24.0 M123.6,618.7h24.0 M1287.8,618.7h-24.0 M123.6,610.4h24.0 M1287.8,610.4h-24.0 M123.6,603.0h48.0 M1287.8,603.0h-48.0 M123.6,554.3h24.0 M1287.8,554.3h-24.0 M123.6,525.8h24.0 M1287.8,525.8h-24.0 M123.6,505.5h24.0 M1287.8,505.5h-24.0 M123.6,489.8h24.0 M1287.8,489.8h-24.0 M123.6,477.0h24.0 M1287.8,477.0h-24.0 M123.6,466.2h24.0 M1287.8,466.2h-24.0 M123.6,456.8h24.0 M1287.8,456.8h-24.0 M123.6,448.5h24.0 M1287.8,448.5h-24.0 M123.6,441.1h48.0 M1287.8,441.1h-48.0 M123.6,392.4h24.0 M1287.8,392.4h-24.0 M123.6,363.9h24.0 M1287.8,363.9h-24.0 M123.6,343.6h24.0 M1287.8,343.6h-24.0 M123.6,327.9h24.0 M1287.8,327.9h-24.0 M123.6,315.1h24.0 M1287.8,315.1h-24.0 M123.6,304.3h24.0 M1287.8,304.3h-24.0 M123.6,294.9h24.0 M1287.8,294.9h-24.0 M123.6,286.6h24.0 M1287.8,286.6h-24.0 M123.6,279.2h48.0 M1287.8,279.2h-48.0 M123.6,230.5h24.0 M1287.8,230.5h-24.0 M123.6,202.0h24.0 M1287.8,202.0h-24.0 M123.6,181.7h24.0 M1287.8,181.7h-24.0 M123.6,166.0h24.0 M1287.8,166.0h-24.0 M123.6,153.2h24.0 M1287.8,153.2h-24.0 M123.6,142.4h24.0 M1287.8,142.4h-24.0 M123.6,133.0h24.0 M1287.8,133.0h-24.0 M123.6,124.7h24.0 M1287.8,124.7h-24.0 M123.6,117.3h48.0 M1287.8,117.3h-48.0 M123.6,68.6h24.0 M1287.8,68.6h-24.0 M123.6,40.1h24.0 M1287.8,40.1h-24.0 M123.6,1223.7h24.0 M1287.8,1223.7h-24.0 M123.6,1095.3h24.0 M1287.8,1095.3h-24.0 M123.6,966.9h24.0 M1287.8,966.9h-24.0 M123.6,838.5h24.0 M1287.8,838.5h-24.0 M123.6,710.1h24.0 M1287.8,710.1h-24.0" stroke="#000" stroke-width="2.0" fill="none"/>
<rect x="929.2" y="60.2" width="95.5" height="11.5" fill="#d02029"/>
<rect x="929.2" y="117.1" width="95.5" height="11.5" fill="#31398c"/>
<rect x="929.2" y="728.8" width="95.5" height="11.8" fill="#000"/>
<rect x="929.2" y="787.4" width="95.5" height="11.3" fill="#9fc54c"/>
<g font-family="Liberation Sans, sans-serif" fill="#000">
<text x="1034.5" y="74.3" font-size="28.5" letter-spacing="0.6">Spin up</text>
<text x="1034.5" y="131.2" font-size="28.5" letter-spacing="0.6">Spin down</text>
<text x="1034.5" y="745.3" font-size="28.5" letter-spacing="0.6">Ni(3d)</text>
<text x="1034.5" y="803.4" font-size="28.5" letter-spacing="0.6">C(2p)</text>
<text x="-1" y="22.6" font-size="42" font-weight="bold">a</text>
<text x="-2.5" y="673" font-size="42" font-weight="bold">b</text>
<text x="97.0" y="132.6" font-size="33" text-anchor="end">10</text>
<text x="96.3" y="120.4" font-size="24">0</text>
<text x="82.4" y="293.8" font-size="33" text-anchor="end">10</text>
<text x="80.7" y="281.0" font-size="24">–1</text>
<text x="82.4" y="454.7" font-size="33" text-anchor="end">10</text>
<text x="80.7" y="441.9" font-size="24">–2</text>
<text x="82.4" y="615.8" font-size="33" text-anchor="end">10</text>
<text x="80.7" y="603.0" font-size="24">–3</text>
<text x="110.5" y="718.1" font-size="33" text-anchor="end">2</text>
<text x="110.5" y="978.4" font-size="33" text-anchor="end">0</text>
<text x="110.5" y="1237.0" font-size="33" text-anchor="end">–2</text>
<text x="115.7" y="1330.6" font-size="33" text-anchor="middle">–1.5</text>
<text x="309.3" y="1330.6" font-size="33" text-anchor="middle">–1</text>
<text x="505.5" y="1330.6" font-size="33" text-anchor="middle">–0.5</text>
<text x="705.6" y="1330.6" font-size="33" text-anchor="middle">0</text>
<text x="899.3" y="1330.6" font-size="33" text-anchor="middle">0.5</text>
<text x="1093.0" y="1330.6" font-size="33" text-anchor="middle">1</text>
<text x="1286.6" y="1330.6" font-size="33" text-anchor="middle">1.5</text>
<text x="635" y="1377.5" font-size="33"><tspan font-style="italic">E</tspan>–<tspan font-style="italic">E</tspan></text>
<text x="697" y="1388.8" font-size="23">F</text>
<text x="717" y="1377.5" font-size="33">(eV)</text>
<text transform="translate(27.5,366) rotate(-90)" font-size="33" font-style="italic">T</text>
<text transform="translate(52.5,1019.5) rotate(-90)" font-size="33">PDOS</text>
</g>
</svg>
</body></html>
